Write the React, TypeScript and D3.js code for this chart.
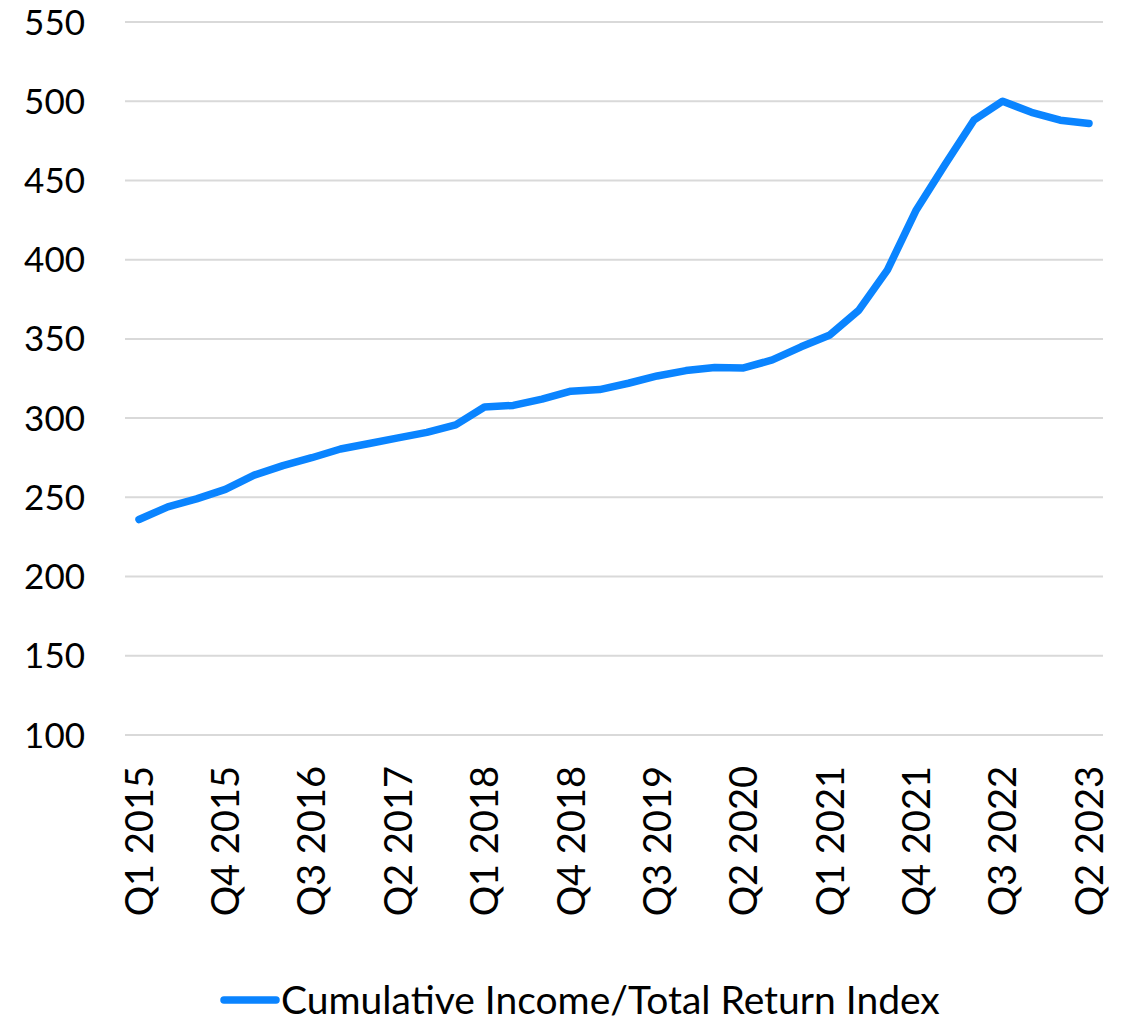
import React from 'react';
import * as d3 from 'd3';

// quarters Q1 2015 .. Q2 2023
const quarters: string[] = [];
for (let y = 2015; y <= 2023; y++) {
  for (let q = 1; q <= 4; q++) {
    if (y === 2023 && q > 2) break;
    quarters.push('Q' + q + ' ' + y);
  }
}

const indexValues = [
  236, 244, 249, 255, 264, 270, 275, 280.5, 284, 287.5,
  291, 295.7, 307, 308, 312, 317, 318, 322, 326.6, 330,
  332, 331.7, 336.7, 345, 352.5, 368, 393.6, 431.4, 460, 488,
  500, 493, 488, 486,
];

const yTicks = [100, 150, 200, 250, 300, 350, 400, 450, 500, 550];
const seriesName = 'Cumulative Income/Total Return Index';

const W = 1128;
const H = 1023;
const font = "Lato, 'Open Sans', sans-serif";
const blue = '#0A84FF';

export default function App() {
  const x = d3.scalePoint<string>().domain(quarters).range([139, 1089]);
  const y = d3.scaleLinear().domain([100, 550]).range([735, 22]);

  const line = d3.line<number>()
    .x((d, i) => x(quarters[i]) as number)
    .y(d => y(d));

  const labeled = quarters.filter((q, i) => i % 3 === 0);

  return (
    <svg width={W} height={H} style={{ position: 'absolute', left: 0, top: 0, background: '#fff' }}>
      {yTicks.map(t => (
        <g key={t}>
          <line x1={125} x2={1103} y1={y(t)} y2={y(t)} stroke="#d9d9d9" strokeWidth={2} />
          <text x={85} y={y(t)} dy="0.36em" textAnchor="end" fontFamily={font} fontSize={35} fill="#000">{t}</text>
        </g>
      ))}
      {labeled.map(q => (
        <text key={q}
          transform={`translate(${(x(q) as number)},766) rotate(-90)`}
          dy="0.36em" textAnchor="end" fontFamily={font} fontSize={38} fill="#000">{q}</text>
      ))}
      <path d={line(indexValues) || ''} fill="none" stroke={blue} strokeWidth={7.5}
        strokeLinejoin="round" strokeLinecap="round" />
      <line x1={224} x2={276} y1={1000} y2={1000} stroke={blue} strokeWidth={7.5} strokeLinecap="round" />
      <text x={281} y={1000} dy="0.36em" fontFamily={font} fontSize={39} fill="#000">{seriesName}</text>
    </svg>
  );
}
